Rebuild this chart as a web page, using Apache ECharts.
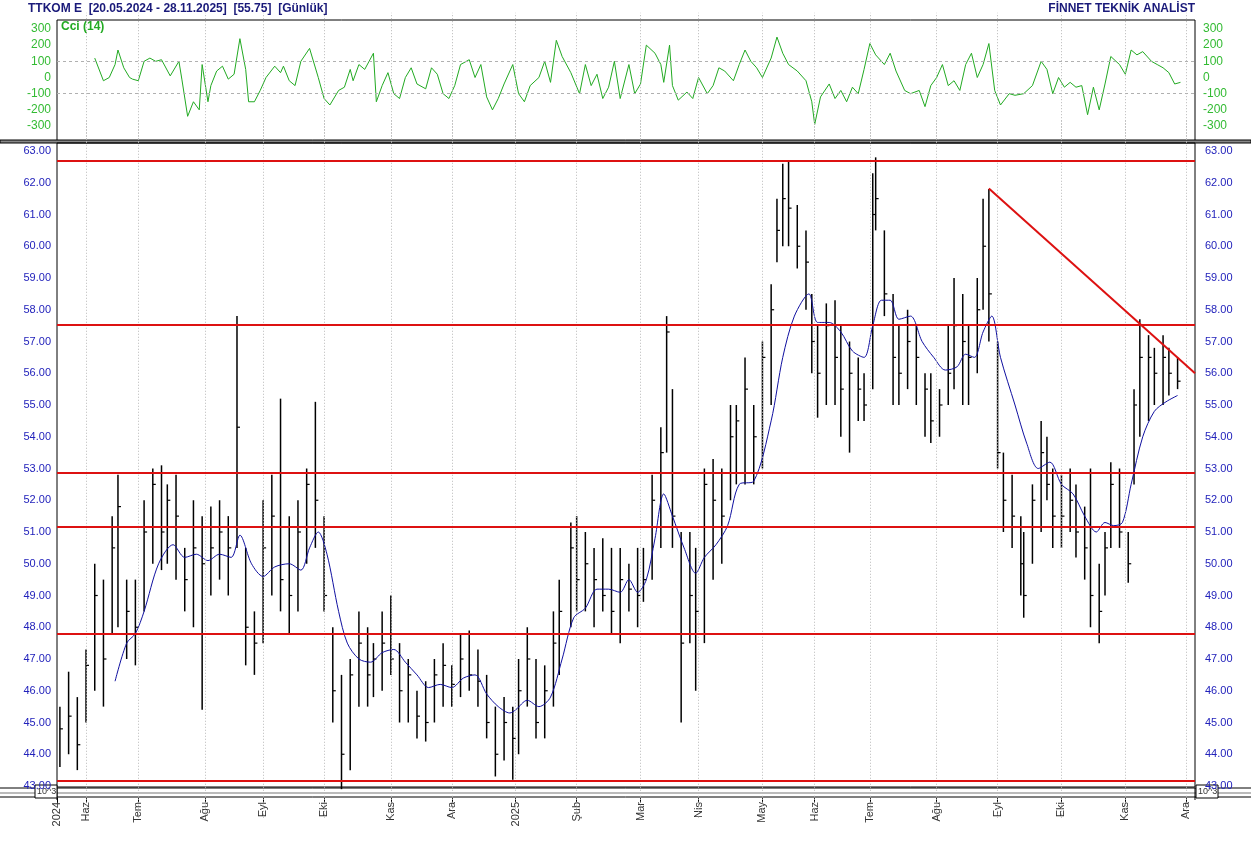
<!DOCTYPE html>
<html>
<head>
<meta charset="utf-8">
<script src="https://cdn.jsdelivr.net/npm/echarts@6/dist/echarts.min.js"></script>
<style>html,body{margin:0;padding:0;background:#fff}#main{width:1251px;height:841px}</style>
</head>
<body>
<div id="main"></div>
<script>
// gün indeksi (işlem günü), yüksek, düşük, kapanış
const dayIdx = [1,4,7,10,13,16,19,21,24,27,30,33,36,38,41,44,47,50,53,56,59,62,65,68,71,74,77,80,83,86,89,92,95,98,101,104,107,109,112,115,118,121,124,127,130,133,136,139,142,145,148,151,154,157,159,162,165,168,171,173,177,179,182,185,188,191,194,197,200,202,205,208,210,212,215,218,220,223,226,229,232,234,237,240,243,246,248,250,252,255,258,260,262,265,268,270,273,276,278,281,282,285,288,290,293,296,299,301,304,307,309,312,314,317,319,321,324,326,329,332,333,336,339,341,343,346,349,351,354,356,359,361,363,366,369,371,373,376,378,381,383,386]
const highs = [45.5,46.6,45.8,47.3,50.0,49.5,51.5,52.8,49.5,49.5,52.0,53.0,53.1,52.5,52.8,50.5,52.0,51.5,51.8,52.0,51.5,57.8,50.5,48.5,52.0,52.8,55.2,51.5,52.0,53.0,55.1,51.5,48.0,46.5,47.0,48.5,48.0,47.5,48.5,49.0,47.5,47.0,46.0,46.3,47.0,47.5,46.8,47.8,47.9,47.3,46.5,45.5,45.8,45.5,47.0,48.0,47.0,46.8,48.5,49.5,51.3,51.5,51.0,50.5,50.8,50.5,50.5,50.0,50.5,50.5,52.8,54.3,57.8,55.5,51.0,51.0,50.5,53.0,53.3,53.0,55.0,55.0,56.5,55.0,57.0,58.8,61.5,62.6,62.7,61.3,60.5,58.5,57.5,58.2,58.3,57.5,57.0,56.5,56.0,62.3,62.8,60.5,58.5,57.5,58.0,57.5,56.0,56.0,55.5,57.5,59.0,58.5,57.5,59.0,61.5,61.8,57.0,53.5,52.8,51.5,51.0,52.5,54.5,54.0,53.0,52.8,53.0,52.5,51.8,53.0,50.0,51.0,53.2,53.0,51.0,55.5,57.7,57.2,56.8,57.2,56.8,56.5]
const lows = [43.6,44.0,43.5,45.0,46.0,45.5,47.8,48.0,47.0,46.8,48.5,50.0,49.8,50.0,49.5,48.5,48.0,45.4,49.0,49.5,49.0,50.5,46.8,46.5,47.5,49.0,48.5,47.8,48.5,50.0,50.5,48.5,45.0,42.9,43.5,45.5,45.5,45.8,46.0,46.5,45.0,45.0,44.5,44.4,45.0,45.5,45.5,45.8,46.0,45.5,44.5,43.3,43.8,43.2,44.0,45.5,44.5,44.5,45.5,46.5,48.0,48.5,48.5,48.0,48.5,47.8,47.5,48.5,48.0,48.8,49.5,50.5,53.5,50.5,45.0,47.5,46.0,47.5,49.5,50.0,52.0,52.5,52.5,52.5,53.0,55.0,59.5,60.0,60.0,59.3,58.0,56.0,54.6,55.0,55.0,54.0,53.5,54.5,54.5,55.5,60.5,57.8,55.0,55.0,55.5,55.0,54.0,53.8,54.0,55.0,55.5,55.0,55.0,56.0,58.0,57.0,53.0,51.0,50.5,49.0,48.3,50.0,51.0,52.0,50.5,50.5,51.0,50.2,49.5,48.0,47.5,49.0,50.5,50.5,49.4,52.5,54.0,54.5,55.0,55.0,55.3,55.5]
const closes = [44.8,45.2,44.3,46.8,49.0,47.0,50.5,51.8,48.5,48.0,51.0,52.5,51.0,52.0,51.5,49.5,50.5,50.0,50.5,51.0,50.5,54.3,48.0,47.5,50.5,51.5,49.5,49.0,51.0,52.5,52.0,49.0,46.0,44.0,46.5,47.5,46.5,47.0,47.5,47.0,46.0,46.5,45.2,45.0,46.5,46.8,46.2,47.0,46.5,46.3,45.0,44.0,45.0,44.5,46.0,47.0,45.0,46.0,47.5,48.5,50.5,49.5,50.0,49.5,49.0,48.5,49.5,49.2,49.0,49.5,52.0,53.5,57.3,51.5,47.5,49.0,48.5,52.5,52.0,51.5,54.0,54.5,55.5,54.0,56.5,58.0,60.5,61.5,61.2,60.0,59.5,57.0,56.0,57.5,56.5,55.5,56.0,55.5,55.0,61.0,61.5,58.5,56.5,56.0,57.0,56.5,55.5,54.5,55.0,56.0,57.5,57.0,56.5,58.0,60.0,58.5,53.5,52.0,51.5,50.0,49.0,52.0,53.5,52.5,51.5,51.5,52.0,51.0,50.5,49.0,48.5,50.5,52.5,51.0,50.0,55.0,56.5,56.5,56.0,56.5,56.0,55.75]

// hareketli ortalama [gün, değer]
const maLine = [[20,46.3],[24,47.5],[27,47.8],[30,48.5],[35,50.0],[40,50.6],[44,50.2],[48,50.3],[52,50.1],[56,50.3],[60,50.2],[63,50.9],[67,50.0],[71,49.6],[75,49.9],[80,50.0],[84,49.8],[87,50.5],[90,51.0],[93,50.3],[97,48.5],[100,47.5],[104,47.0],[108,46.9],[112,47.2],[116,47.3],[120,46.9],[124,46.5],[128,46.1],[132,46.2],[136,46.1],[140,46.4],[144,46.5],[148,45.9],[152,45.5],[156,45.3],[158,45.4],[162,45.7],[166,45.5],[170,45.8],[174,47.0],[178,48.3],[182,48.6],[186,49.2],[190,49.2],[194,49.1],[197,49.5],[200,49.1],[203,49.5],[206,50.8],[209,52.2],[212,51.5],[216,50.5],[220,49.7],[223,50.2],[227,50.6],[231,51.2],[235,52.5],[240,52.6],[246,54.5],[250,56.5],[254,57.8],[259,58.5],[262,57.6],[266,57.6],[270,57.3],[274,56.7],[278,56.5],[281,57.5],[284,58.3],[287,58.3],[290,57.7],[294,57.8],[298,57.0],[302,56.5],[306,56.1],[310,56.2],[313,56.6],[316,56.5],[319,57.3],[322,57.8],[325,56.5],[330,55.0],[334,53.8],[338,53.0],[342,53.2],[346,52.5],[350,52.2],[354,51.5],[358,51.0],[361,51.3],[364,51.2],[367,51.3],[370,52.5],[374,54.0],[378,54.8],[382,55.1],[386,55.3]]

// Cci (14) [gün, değer]
const cciLine = [[13,120],[16,-20],[18,0],[20,80],[21,170],[23,60],[25,0],[26,-10],[28,-20],[30,100],[32,120],[34,100],[36,110],[39,10],[42,100],[43,-10],[45,-240],[47,-150],[49,-200],[50,80],[52,-150],[53,-50],[55,40],[57,70],[59,-10],[61,20],[63,240],[65,50],[66,-150],[68,-150],[70,-80],[72,0],[75,70],[77,30],[78,70],[80,-20],[82,-50],[84,100],[87,180],[90,0],[92,-130],[94,-170],[97,-80],[99,-60],[101,50],[102,-20],[104,80],[106,50],[109,150],[110,-150],[112,-50],[114,30],[116,-100],[118,-130],[120,0],[122,60],[124,-40],[127,-70],[129,60],[131,20],[133,-100],[135,-130],[137,-50],[139,80],[142,110],[144,0],[146,80],[148,-120],[150,-200],[152,-130],[154,-40],[157,80],[159,-100],[161,-150],[163,-50],[166,0],[168,100],[170,-30],[172,230],[174,130],[177,30],[180,-100],[182,80],[184,-50],[186,20],[188,-130],[190,-60],[192,100],[194,-130],[197,80],[199,-100],[201,-40],[203,200],[206,150],[208,80],[209,-30],[211,200],[212,-50],[214,-140],[217,-90],[219,-130],[221,0],[224,-100],[226,-50],[228,60],[230,40],[233,-20],[235,80],[237,170],[239,100],[241,60],[243,0],[246,120],[248,250],[250,150],[252,80],[255,40],[258,-20],[260,-150],[261,-290],[263,-120],[266,-40],[268,-130],[270,-80],[272,-150],[274,-60],[276,-100],[278,50],[280,210],[282,140],[285,80],[287,150],[289,40],[292,-80],[294,-100],[297,-80],[299,-180],[301,-50],[303,0],[305,80],[307,-50],[309,-20],[311,-80],[313,80],[315,150],[317,0],[319,80],[321,210],[323,-80],[325,-170],[328,-100],[330,-110],[333,-100],[336,-50],[339,100],[341,50],[343,-100],[345,0],[347,-60],[349,-30],[351,-60],[353,-50],[355,-230],[357,-60],[359,-200],[361,-40],[363,130],[366,80],[368,20],[370,170],[372,140],[374,160],[377,100],[379,80],[381,60],[383,30],[385,-40],[387,-30]]

const supportLevels = [62.68, 57.52, 52.86, 51.16, 47.79, 43.16]
const trendLine = [[321, 61.82], [392, 56.0]]
const monthIdx = [0,10,28,51,71,92,115,136,158,179,201,221,243,261,280,303,324,346,368,389]
const monthLabels = ['2024','Haz','Tem','Ağu','Eyl','Eki','Kas','Ara','2025','Şub','Mar','Nis','May','Haz','Tem','Ağu','Eyl','Eki','Kas','Ara']

const bars = dayIdx.map((d, i) => [d, highs[i], lows[i], closes[i]])
const FONT = 'Liberation Sans'
const L = 57, R = 56

const chart = echarts.init(document.getElementById('main'))

const monthGrid = {
  silent: true, symbol: 'none',
  lineStyle: {color: '#b8b8b8', type: [1, 2], width: 1},
  label: {show: false},
  data: monthIdx.slice(1).map(v => ({xAxis: v}))
}

const yAx = (grid, min, max, interval, side, color, size, margin, fmt) => ({
  gridIndex: grid, type: 'value', min, max, interval, position: side,
  axisLine: {show: false}, axisTick: {show: false}, splitLine: {show: false},
  axisLabel: {color, fontSize: size, margin, showMinLabel: false, showMaxLabel: false, formatter: fmt}
})

const option = {
  animation: false,
  backgroundColor: '#fff',
  textStyle: {fontFamily: FONT},
  grid: [
    {left: L, right: R, top: 12.8, height: 129.4},
    {left: L, right: R, top: 119.25, height: 698.5},
    {left: L, right: R, top: 790, height: 8}
  ],
  xAxis: [
    {gridIndex: 0, type: 'value', min: 0, max: 392, show: false},
    {gridIndex: 1, type: 'value', min: 0, max: 392, show: false},
    {gridIndex: 2, type: 'value', min: 0, max: 392, position: 'bottom',
      axisLine: {show: false}, splitLine: {show: false},
      axisTick: {customValues: monthIdx, length: 5, lineStyle: {color: '#000'}},
      axisLabel: {customValues: monthIdx, rotate: 90, color: '#333', fontSize: 11, margin: 4,
        formatter: v => monthLabels[monthIdx.indexOf(Math.round(v))] || ''}}
  ],
  yAxis: [
    yAx(0, -400, 400, 100, 'left', '#33bb33', 12, 6, v => String(v)),
    yAx(0, -400, 400, 100, 'right', '#33bb33', 12, 8, v => String(v)),
    yAx(1, 42, 64, 1, 'left', '#2222bb', 11, 6, v => v.toFixed(2)),
    yAx(1, 42, 64, 1, 'right', '#2222bb', 11, 10, v => v.toFixed(2)),
    {gridIndex: 2, type: 'value', show: false}
  ],
  series: [
    {
      type: 'line', xAxisIndex: 0, yAxisIndex: 0, data: cciLine, symbol: 'none',
      lineStyle: {color: '#22aa22', width: 1},
      markLine: {
        silent: true, symbol: 'none', label: {show: false},
        lineStyle: {color: '#b0b0b0', type: [3, 3], width: 1},
        data: [{yAxis: 100}, {yAxis: -100}]
      }
    },
    {
      type: 'line', xAxisIndex: 0, yAxisIndex: 0, data: [], markLine: monthGrid
    },
    {
      type: 'custom', xAxisIndex: 1, yAxisIndex: 2, data: bars,
      renderItem: (params, api) => {
        const x = api.value(0)
        const hi = api.coord([x, api.value(1)])
        const lo = api.coord([x, api.value(2)])
        const cl = api.coord([x, api.value(3)])
        return {type: 'group', children: [
          {type: 'line', shape: {x1: hi[0], y1: hi[1], x2: lo[0], y2: lo[1]}, style: {stroke: '#000', lineWidth: 1.5}},
          {type: 'line', shape: {x1: cl[0], y1: cl[1], x2: cl[0] + 3, y2: cl[1]}, style: {stroke: '#000', lineWidth: 1.2}}
        ]}
      },
      markLine: monthGrid
    },
    {
      type: 'line', xAxisIndex: 1, yAxisIndex: 2, data: maLine, symbol: 'none', smooth: 0.3,
      lineStyle: {color: '#1010a0', width: 1}
    },
    {
      type: 'line', xAxisIndex: 1, yAxisIndex: 2, data: [], symbol: 'none',
      markLine: {
        silent: true, symbol: 'none', label: {show: false},
        lineStyle: {color: '#dd1111', type: 'solid', width: 2},
        data: supportLevels.map(v => ({yAxis: v})).concat([[{coord: trendLine[0]}, {coord: trendLine[1]}]])
      }
    }
  ],
  graphic: [
    {type: 'text', left: 28, top: 3, style: {text: 'TTKOM E  [20.05.2024 - 28.11.2025]  [55.75]  [Günlük]', fill: '#1a1a7a', font: 'bold 12px ' + FONT}},
    {type: 'text', right: 56, top: 3, style: {text: 'FİNNET TEKNİK ANALİST', fill: '#1a1a7a', font: 'bold 12px ' + FONT}},
    {type: 'text', left: 61, top: 21, style: {text: 'Cci (14)', fill: '#22aa22', font: 'bold 12px ' + FONT}},
    {type: 'rect', shape: {x: L, y: 20, width: 1138, height: 121}, style: {fill: 'none', stroke: '#000', lineWidth: 1}},
    {type: 'rect', shape: {x: 0, y: 140, width: 1251, height: 3}, style: {fill: '#888', stroke: '#000', lineWidth: 1}},
    {type: 'rect', shape: {x: L, y: 143, width: 1138, height: 644}, style: {fill: 'none', stroke: '#000', lineWidth: 1}},
    {type: 'line', shape: {x1: 0, y1: 788, x2: 1251, y2: 788}, style: {stroke: '#000', lineWidth: 1}},
    {type: 'line', shape: {x1: 0, y1: 797, x2: 1251, y2: 797}, style: {stroke: '#000', lineWidth: 1}},
    {type: 'rect', shape: {x: 0, y: 792, width: 1251, height: 2}, style: {fill: '#bbb'}},
    {type: 'line', shape: {x1: L, y1: 788, x2: L, y2: 800}, style: {stroke: '#000', lineWidth: 1}},
    {type: 'line', shape: {x1: 1195, y1: 788, x2: 1195, y2: 800}, style: {stroke: '#000', lineWidth: 1}},
    {type: 'rect', shape: {x: 35, y: 785, width: 22, height: 13}, style: {fill: '#fff', stroke: '#000', lineWidth: 1}},
    {type: 'text', left: 37, top: 787, style: {text: '10^3', fill: '#333', font: '9px ' + FONT}},
    {type: 'rect', shape: {x: 1196, y: 785, width: 22, height: 13}, style: {fill: '#fff', stroke: '#000', lineWidth: 1}},
    {type: 'text', left: 1198, top: 787, style: {text: '10^3', fill: '#333', font: '9px ' + FONT}}
  ]
}

chart.setOption(option)
</script>
</body>
</html>
